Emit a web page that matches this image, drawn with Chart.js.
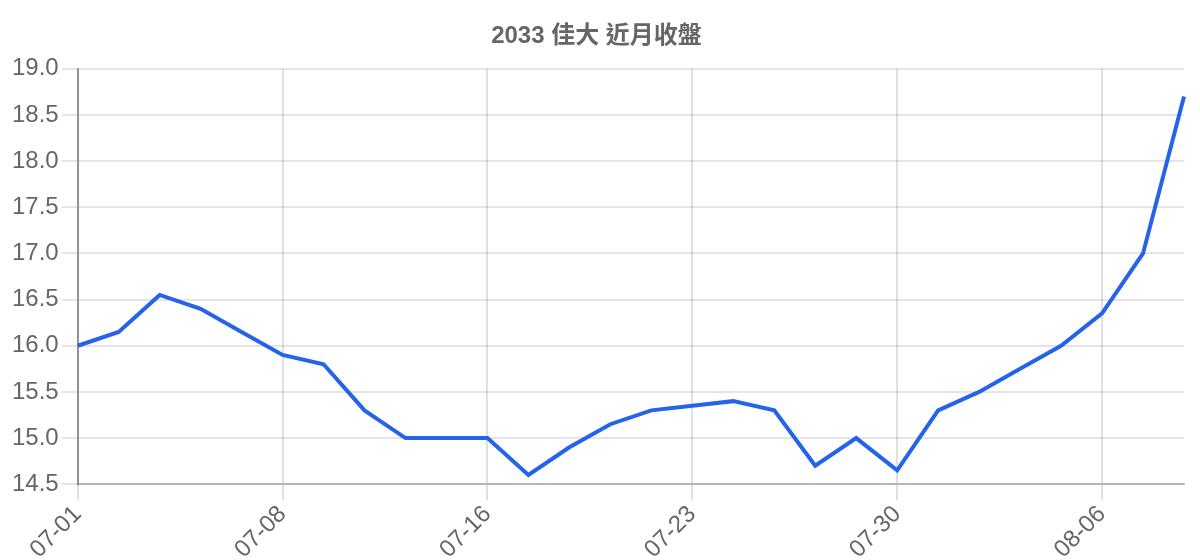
<!DOCTYPE html>
<html>
<head>
<meta charset="utf-8">
<script src="https://cdn.jsdelivr.net/npm/chart.js@4"></script>
<style>
  html, body { margin: 0; padding: 0; background: #fff; }
  #wrap { width: 1200px; height: 560px; }
</style>
</head>
<body>
<div id="wrap"><canvas id="line"></canvas></div>
<script>
// dates (trading days) and close prices
const dates = ['07-01','07-02','07-03','07-04','07-05',
  '07-08','07-09','07-10','07-11','07-12',
  '07-16','07-17','07-18','07-19',
  '07-22','07-23','07-24','07-25','07-26',
  '07-29','07-30','07-31','08-01','08-02',
  '08-05','08-06','08-07','08-08'];
const closes = [16.0, 16.15, 16.55, 16.4, 16.15,
  15.9, 15.8, 15.3, 15.0, 15.0,
  15.0, 14.6, 14.9, 15.15,
  15.3, 15.35, 15.4, 15.3, 14.7,
  15.0, 14.65, 15.3, 15.5, 15.75,
  16.0, 16.35, 17.0, 18.7];
const yTicks = [14.5, 19.0, 0.5]; // min, max, step

const FONT = "'Liberation Sans', Arial, 'Noto Sans CJK TC', sans-serif";

const ctx = document.getElementById('line').getContext('2d');
new Chart(ctx, {
  type: 'line',
  data: {
    labels: dates,
    datasets: [{
      label: '收盤',
      data: closes,
      borderColor: '#2563eb',
      backgroundColor: '#2563eb',
      borderWidth: 4,
      pointRadius: 0,
      tension: 0,
      fill: false
    }]
  },
  options: {
    responsive: true,
    maintainAspectRatio: false,
    animation: false,
    layout: { padding: { left: 9, right: 16, top: 4, bottom: -4 } },
    plugins: {
      legend: { display: false },
      tooltip: { enabled: false },
      title: {
        display: true,
        text: '2033 佳大 近月收盤',
        color: '#666',
        font: { family: FONT, size: 24, weight: 'bold' },
        padding: { top: 18, bottom: 18 }
      }
    },
    scales: {
      x: {
        grid: { color: 'rgba(0,0,0,0.12)', lineWidth: 2, tickLength: 16 },
        border: { color: 'rgba(0,0,0,0.2)', width: 2 },
        ticks: {
          color: '#666',
          font: { family: FONT, size: 24 },
          padding: 0,
          maxRotation: 45,
          minRotation: 45,
          autoSkip: false,
          callback: function (val, i) {
            return i % 5 === 0 ? this.getLabelForValue(val) : null;
          }
        }
      },
      y: {
        min: yTicks[0],
        max: yTicks[1],
        grid: { color: 'rgba(0,0,0,0.1)', lineWidth: 2, tickLength: 16 },
        border: { color: 'rgba(0,0,0,0.35)', width: 2 },
        ticks: {
          stepSize: yTicks[2],
          color: '#666',
          font: { family: FONT, size: 24 },
          callback: v => v.toFixed(1)
        }
      }
    }
  }
});
</script>
</body>
</html>
